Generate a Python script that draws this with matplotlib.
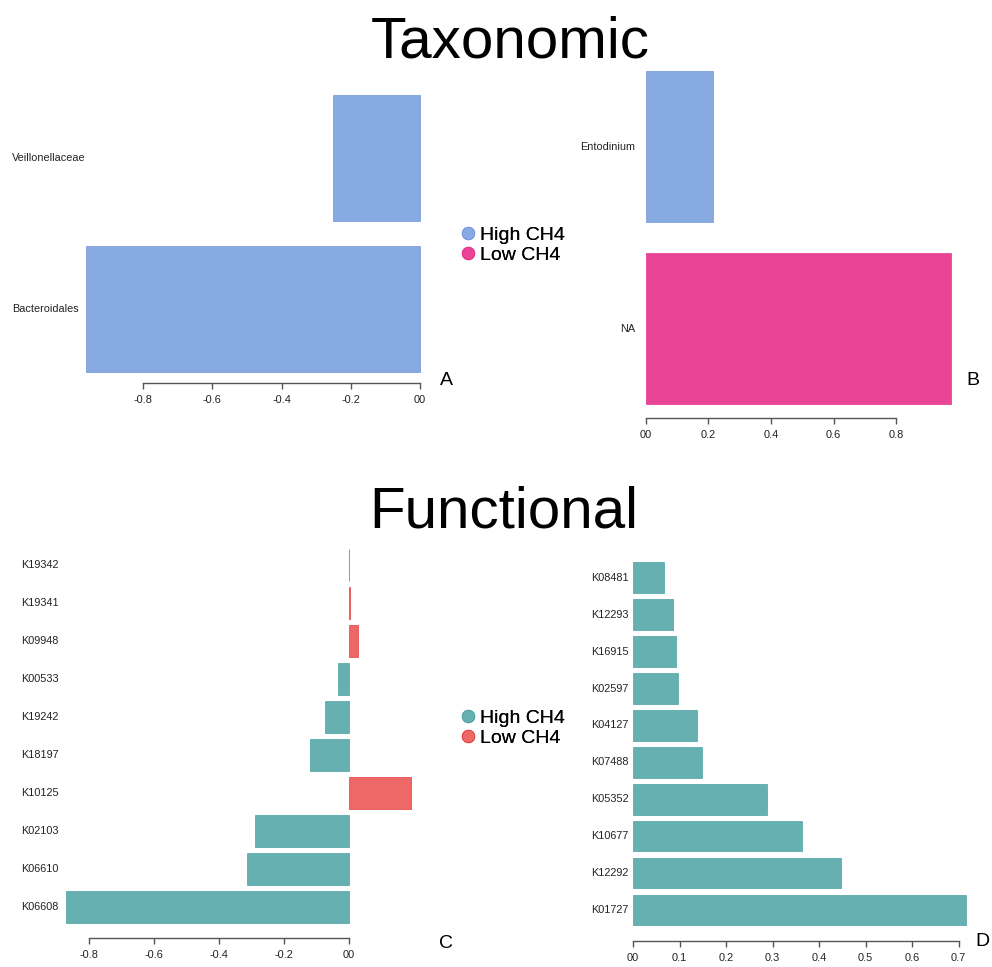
import matplotlib
matplotlib.use('Agg')
import matplotlib.pyplot as plt
from matplotlib.lines import Line2D
from matplotlib.transforms import blended_transform_factory

plt.rcParams['font.family'] = ['Liberation Sans', 'DejaVu Sans']

# Taxonomic LDA-style scores (bottom row first)
tax_a_names = ['Bacteroidales', 'Veillonellaceae']
tax_a_values = [-0.965, -0.25]
tax_a_groups = ['High CH4', 'High CH4']

tax_b_names = ['NA', 'Entodinium']
tax_b_values = [0.975, 0.216]
tax_b_groups = ['Low CH4', 'High CH4']

# Functional (KEGG orthologs), bottom row first
fun_c_names = ['K06608', 'K06610', 'K02103', 'K10125', 'K18197',
               'K19242', 'K00533', 'K09948', 'K19341', 'K19342']
fun_c_values = [-0.871, -0.314, -0.289, 0.191, -0.119,
                -0.073, -0.032, 0.028, 0.003, 0.001]
fun_c_groups = ['High CH4', 'High CH4', 'High CH4', 'Low CH4', 'High CH4',
                'High CH4', 'High CH4', 'Low CH4', 'Low CH4', 'Low CH4']

fun_d_names = ['K01727', 'K12292', 'K10677', 'K05352', 'K07488',
               'K04127', 'K02597', 'K16915', 'K12293', 'K08481']
fun_d_values = [0.7155, 0.448, 0.364, 0.2875, 0.148,
                0.138, 0.096, 0.0925, 0.085, 0.066]
fun_d_groups = ['High CH4'] * 10

tax_colors = {'High CH4': ('#88AAE2', '#6F95DB'), 'Low CH4': ('#EA4497', '#E3338A')}
fun_colors = {'High CH4': ('#66B0B2', '#4AA3A3'), 'Low CH4': ('#EE6868', '#E63C3C')}

W, H = 992, 967
fig = plt.figure(figsize=(W / 100, H / 100), dpi=100)


def panel(names, values, groups, colors, box, zero_x, unit_px, row_px, base_y,
          ticks, tick_labels, label_x, label_ha, letter, letter_xy):
    left, right, top, bottom = box
    ax = fig.add_axes([left / W, 1 - bottom / H, (right - left) / W, (bottom - top) / H])
    ax.set_xlim((left - zero_x) / unit_px, (right - zero_x) / unit_px)
    ax.set_ylim((base_y - bottom) / row_px, (base_y - top) / row_px)
    ypos = list(range(len(values)))
    ax.barh(ypos, values, height=0.833,
            color=[colors[g][0] for g in groups],
            edgecolor=[colors[g][1] for g in groups], linewidth=0.5)
    for s in ['top', 'right', 'left']:
        ax.spines[s].set_visible(False)
    ax.spines['bottom'].set_bounds(ticks[0], ticks[-1])
    ax.spines['bottom'].set_color('#555555')
    ax.spines['bottom'].set_linewidth(1.0)
    ax.set_yticks([])
    ax.set_xticks(ticks)
    ax.set_xticklabels(tick_labels, fontsize=7.9, color='#222222')
    ax.tick_params(axis='x', length=4, width=1.0, color='#555555', pad=4.5)
    trans = blended_transform_factory(fig.transFigure, ax.transData)
    for y, name in zip(ypos, names):
        ax.text(label_x / W, y, name, transform=trans, ha=label_ha, va='center',
                fontsize=7.8, color='#222222')
    fig.text(letter_xy[0] / W, 1 - letter_xy[1] / H, letter, fontsize=14,
             ha='center', va='center')
    return ax


panel(tax_a_names, tax_a_values, tax_a_groups, tax_colors,
      (10, 440, 60, 383), 420, 346, 151, 309.3,
      [-0.8, -0.6, -0.4, -0.2, 0.0], ['-0.8', '-0.6', '-0.4', '-0.2', '00'],
      12, 'left', 'A', (446, 380))

panel(tax_b_names, tax_b_values, tax_b_groups, tax_colors,
      (600, 970, 60, 418), 645.7, 313, 182, 328.5,
      [0.0, 0.2, 0.4, 0.6, 0.8], ['00', '0.2', '0.4', '0.6', '0.8'],
      635, 'right', 'B', (973, 380))

panel(fun_c_names, fun_c_values, fun_c_groups, fun_colors,
      (10, 440, 540, 938), 348.7, 324.3, 38, 907.2,
      [-0.8, -0.6, -0.4, -0.2, 0.0], ['-0.8', '-0.6', '-0.4', '-0.2', '00'],
      21, 'left', 'C', (446, 943))

panel(fun_d_names, fun_d_values, fun_d_groups, fun_colors,
      (580, 975, 545, 940.7), 633, 465, 36.9, 909.9,
      [0.0, 0.1, 0.2, 0.3, 0.4, 0.5, 0.6, 0.7],
      ['00', '0.1', '0.2', '0.3', '0.4', '0.5', '0.6', '0.7'],
      629, 'right', 'D', (982, 942))

# section titles
fig.text(510 / W, 1 - 57 / H, 'Taxonomic', fontsize=42, ha='center', va='baseline')
fig.text(504 / W, 1 - 527 / H, 'Functional', fontsize=42, ha='center', va='baseline')


def group_legend(colors, x, y):
    handles = [Line2D([], [], linestyle='none', marker='o', markersize=9,
                      markerfacecolor=colors[g][0], markeredgecolor=colors[g][1],
                      markeredgewidth=0.6) for g in ['High CH4', 'Low CH4']]
    leg = fig.legend(handles, ['High CH4', 'Low CH4'], loc='center left',
                     bbox_to_anchor=(x / W, 1 - y / H), frameon=False, fontsize=14,
                     handlelength=0.8, handletextpad=0.25, labelspacing=0.1,
                     borderpad=0, borderaxespad=0)
    fig.add_artist(leg)


group_legend(tax_colors, 460, 245)
group_legend(fun_colors, 460, 728)

fig.savefig('out.png', dpi=100)
